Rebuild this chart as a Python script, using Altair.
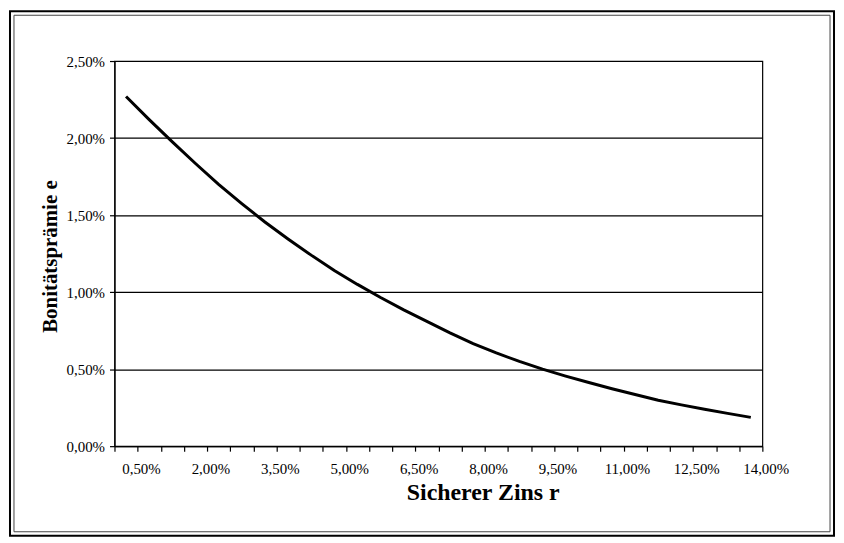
import altair as alt
import pandas as pd

# Sicherer Zins r (category axis, 0,50% .. 14,00% in steps of 0,50%)
rates = ["0,50%", "1,00%", "1,50%", "2,00%", "2,50%", "3,00%", "3,50%",
         "4,00%", "4,50%", "5,00%", "5,50%", "6,00%", "6,50%", "7,00%",
         "7,50%", "8,00%", "8,50%", "9,00%", "9,50%", "10,00%", "10,50%",
         "11,00%", "11,50%", "12,00%", "12,50%", "13,00%", "13,50%", "14,00%"]

# Bonitätsprämie e in percent
premium_pct = [2.27, 2.12, 1.975, 1.835, 1.70, 1.575, 1.455, 1.345, 1.24,
               1.14, 1.05, 0.965, 0.885, 0.81, 0.735, 0.665, 0.605, 0.55,
               0.50, 0.455, 0.413, 0.373, 0.335, 0.298, 0.268, 0.24, 0.213,
               0.187]

shown_labels = ["0,50%", "2,00%", "3,50%", "5,00%", "6,50%", "8,00%",
                "9,50%", "11,00%", "12,50%", "14,00%"]
y_ticks = [0.0, 0.005, 0.01, 0.015, 0.02, 0.025]

df = pd.DataFrame({"r": rates, "e": [v / 100 for v in premium_pct]})

FONT = "Liberation Serif"
W, H = 651, 387

shown_js = "[" + ",".join("'" + s + "'" for s in shown_labels) + "]"

line = alt.Chart(df).mark_line(color="black", strokeWidth=3).encode(
    x=alt.X("r:N", sort=rates,
            scale=alt.Scale(type="band", paddingInner=0, paddingOuter=0),
            axis=alt.Axis(
                title="Sicherer Zins r",
                tickBand="extent",
                labelAngle=0,
                labelOverlap=False,
                labelExpr="indexof(" + shown_js + ", datum.label) >= 0 ? datum.label : ''",
                labelOffset=15,
                labelPadding=10,
                labelFontSize=15,
                tickSize=5,
                titleFontSize=24,
                titleFontWeight="bold",
                titleX=370,
                titleY=54,
                titleAlign="center",
                titleBaseline="alphabetic",
                grid=False,
            )),
    y=alt.Y("e:Q",
            scale=alt.Scale(domain=[0, 0.025], nice=False, zero=True),
            axis=alt.Axis(
                title="Bonitätsprämie e",
                values=y_ticks,
                labelExpr="replace(format(datum.value, '.2%'), '.', ',')",
                labelFontSize=15,
                labelPadding=5,
                tickSize=5,
                titleFontSize=21,
                titleFontWeight="bold",
                titleAngle=-90,
                titleX=-64,
                titleY=196,
                titleAlign="center",
                titleBaseline="middle",
                grid=True,
            )),
)

frame_outer = alt.Chart(alt.Data(values=[{"k": 1}])).mark_rect(
    filled=False, stroke="black", strokeWidth=2
).encode(x=alt.value(-105), x2=alt.value(723), y=alt.value(-50), y2=alt.value(477))

frame_inner = alt.Chart(alt.Data(values=[{"k": 1}])).mark_rect(
    filled=False, stroke="#444444", strokeWidth=1
).encode(x=alt.value(-101), x2=alt.value(719), y=alt.value(-46), y2=alt.value(473))

chart = alt.layer(line, frame_outer, frame_inner).properties(
    width=W, height=H,
    autosize=alt.AutoSizeParams(type="none"),
    padding={"left": 107, "top": 52, "right": 74, "bottom": 93},
    background="white",
).configure_axis(
    labelFont=FONT, titleFont=FONT, labelColor="black", titleColor="black",
    domainColor="black", tickColor="black", gridColor="black",
    domainWidth=1.2, tickWidth=1.2, gridWidth=1.2,
).configure_view(stroke="black", strokeWidth=1.2)

chart.save("out.html", embed_options={"renderer": "svg", "actions": False})
